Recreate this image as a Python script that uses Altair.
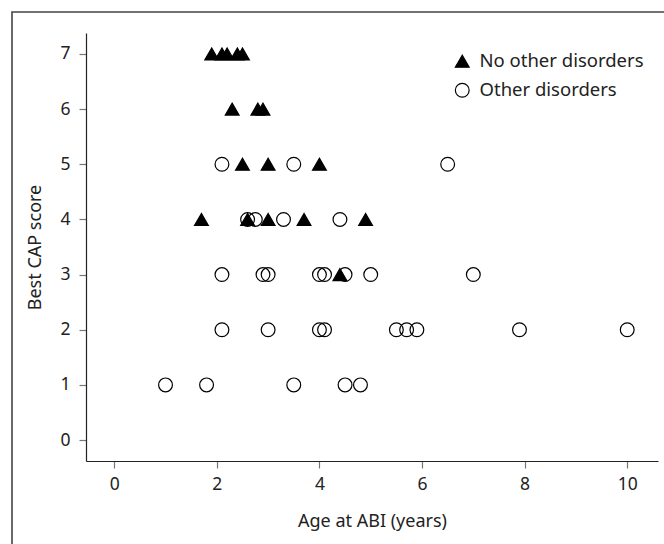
import altair as alt
import pandas as pd

# No other disorders (filled triangles)
tri_age = [1.9, 2.1, 2.2, 2.4, 2.5, 2.3, 2.8, 2.9, 2.5, 3.0, 4.0, 1.7, 2.6, 3.0, 3.7, 4.9, 4.4]
tri_cap = [7, 7, 7, 7, 7, 6, 6, 6, 5, 5, 5, 4, 4, 4, 4, 4, 3]

# Other disorders (open circles)
circ_age = [2.1, 3.5, 6.5,
            2.6, 2.75, 3.3, 4.4,
            2.1, 2.9, 3.0, 4.0, 4.1, 4.5, 5.0, 7.0,
            2.1, 3.0, 4.0, 4.1, 5.5, 5.7, 5.9, 7.9, 10.0,
            1.0, 1.8, 3.5, 4.5, 4.8]
circ_cap = [5, 5, 5,
            4, 4, 4, 4,
            3, 3, 3, 3, 3, 3, 3, 3,
            2, 2, 2, 2, 2, 2, 2, 2, 2,
            1, 1, 1, 1, 1]

groups = ["No other disorders", "Other disorders"]
x_ticks = [0, 2, 4, 6, 8, 10]
y_ticks = [0, 1, 2, 3, 4, 5, 6, 7]

df = pd.concat([
    pd.DataFrame({"age": circ_age, "cap": circ_cap, "group": groups[1]}),
    pd.DataFrame({"age": tri_age, "cap": tri_cap, "group": groups[0]}),
], ignore_index=True)

FONT = "Noto Sans"


def legend():
    return alt.Legend(title=None, orient="none", legendX=367, legendY=19,
                      symbolSize=190, symbolStrokeWidth=1.2,
                      labelFontSize=18.5, labelFont=FONT, labelColor="#222",
                      labelLimit=400, labelOffset=8, rowPadding=9, padding=0)


points = alt.Chart(df).mark_point(size=190, strokeWidth=1.2, opacity=1).encode(
    x=alt.X("age:Q", title="Age at ABI (years)",
            scale=alt.Scale(domain=[-0.55, 10.6], nice=False, zero=False),
            axis=alt.Axis(values=x_ticks, grid=False, tickSize=7, labelPadding=7,
                          titlePadding=20)),
    y=alt.Y("cap:Q", title="Best CAP score",
            scale=alt.Scale(domain=[-0.38, 7.38], nice=False, zero=False),
            axis=alt.Axis(values=y_ticks, grid=False, tickSize=7, labelPadding=9,
                          titlePadding=15)),
    shape=alt.Shape("group:N", scale=alt.Scale(domain=groups, range=["triangle-up", "circle"]),
                    legend=legend()),
    fill=alt.Fill("group:N", scale=alt.Scale(domain=groups, range=["black", "transparent"]),
                  legend=legend()),
    stroke=alt.Stroke("group:N", scale=alt.Scale(domain=groups, range=["black", "black"]),
                      legend=legend()),
)

frame = alt.Chart(alt.Data(values=[{"a": 1}])).mark_rect(
    fill="transparent", stroke="#444", strokeWidth=1.6
).encode(
    x=alt.value(-74), x2=alt.value(800), y=alt.value(-21), y2=alt.value(800)
)

chart = alt.layer(frame, points).properties(
    width=572, height=428,
    autosize=alt.AutoSizeParams(type="none"),
    padding={"left": 86, "top": 33, "right": 6, "bottom": 83},
    background="white",
).configure_view(stroke="transparent").configure_axis(
    labelFont=FONT, titleFont=FONT, labelFontSize=17.5, titleFontSize=18,
    titleFontWeight="normal", labelColor="#222", titleColor="#222",
    domainColor="#222", tickColor="#777", domainWidth=1.2, tickWidth=1.2,
)

chart.save("out.html", embed_options={"renderer": "svg", "actions": False})
